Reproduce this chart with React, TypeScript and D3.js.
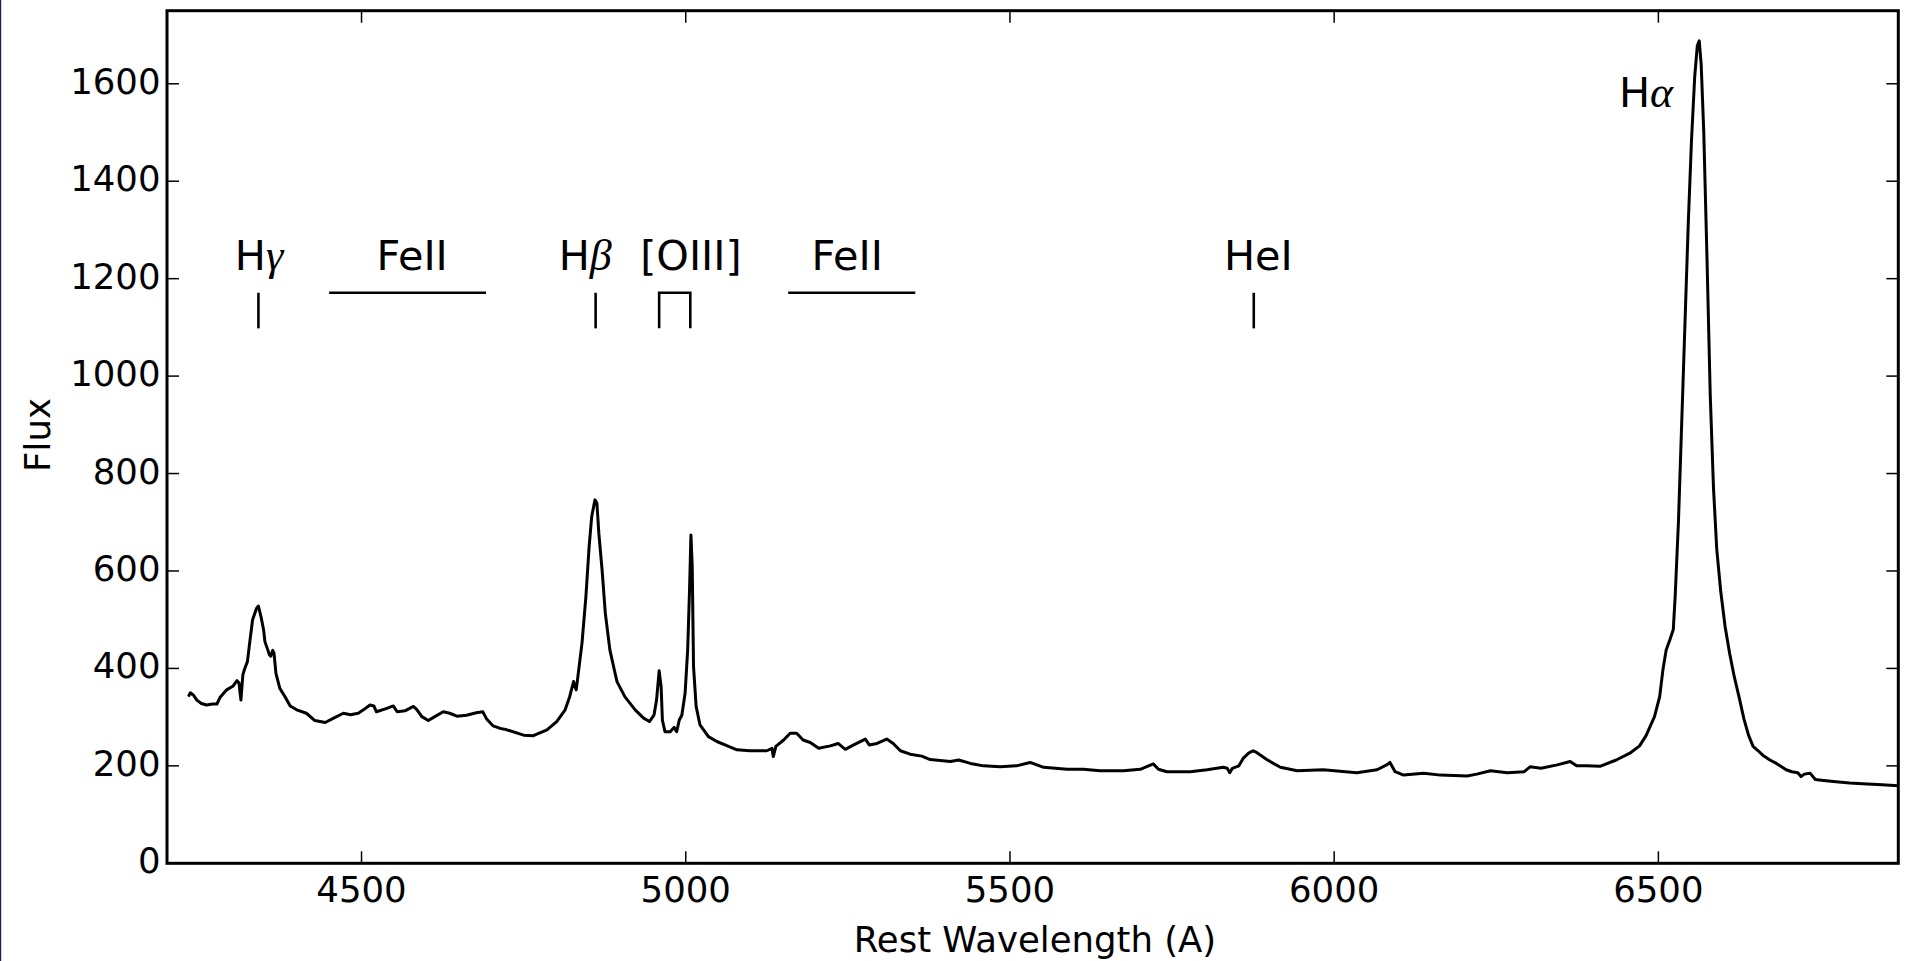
import React from "react";
import * as d3 from "d3";

// Spectrum (rest wavelength in Å, flux)
const wavelengths = [
  4233, 4236, 4238, 4241, 4246, 4253, 4261, 4270, 4277, 4282, 4292, 4302, 4308, 4311, 4314, 4317, 4320, 4324, 4328, 4332,
  4338, 4341, 4345, 4349, 4351, 4358, 4360, 4363, 4365, 4368, 4374, 4382, 4390, 4400, 4415, 4428, 4444, 4457, 4472, 4483,
  4495, 4503, 4513, 4519, 4523, 4539, 4549, 4555, 4567, 4580, 4585, 4593, 4603, 4613, 4626, 4636, 4647, 4662, 4677, 4687,
  4693, 4703, 4714, 4724, 4750, 4765, 4786, 4801, 4814, 4821, 4827, 4831, 4833, 4840, 4846, 4851, 4855, 4860, 4863, 4866,
  4871, 4876, 4883, 4891, 4894, 4906, 4922, 4935, 4944, 4951, 4955, 4959, 4962, 4964, 4968, 4976, 4982, 4986, 4990, 4994,
  4999, 5003, 5006, 5008, 5010, 5012, 5016, 5022, 5035, 5048, 5066, 5079, 5099, 5125, 5133, 5135, 5139, 5151, 5161, 5171,
  5181, 5192, 5205, 5223, 5235, 5246, 5259, 5277, 5283, 5295, 5310, 5320, 5331, 5346, 5364, 5377, 5408, 5421, 5439, 5459,
  5485, 5510, 5531, 5552, 5588, 5613, 5639, 5675, 5701, 5721, 5729, 5742, 5778, 5804, 5829, 5835, 5839, 5843, 5853, 5860,
  5868, 5875, 5881, 5896, 5917, 5943, 5983, 6035, 6066, 6081, 6086, 6094, 6107, 6138, 6164, 6205, 6220, 6241, 6267, 6293,
  6302, 6319, 6344, 6364, 6374, 6389, 6410, 6435, 6456, 6471, 6481, 6494, 6502, 6507, 6512, 6518, 6523, 6526, 6531, 6536,
  6541, 6546, 6551, 6556, 6560, 6563, 6566, 6570, 6575, 6580, 6585, 6590, 6596, 6603, 6610, 6617, 6625, 6632, 6639, 6646,
  6653, 6661, 6672, 6682, 6690, 6697, 6706, 6715, 6720, 6725, 6734, 6742, 6755, 6770, 6795, 6822, 6845, 6870,
];
const fluxes = [
  342, 350, 348, 345, 335, 328, 325, 327, 327, 341, 356, 364, 375, 370, 335, 387, 400, 414, 458, 500,
  523, 528, 506, 479, 455, 428, 425, 437, 432, 390, 359, 342, 323, 315, 308, 293, 289, 298, 308, 305,
  308, 315, 325, 323, 311, 318, 323, 311, 313, 322, 316, 301, 293, 301, 311, 308, 302, 304, 309, 311,
  296, 282, 277, 274, 263, 262, 274, 291, 315, 342, 373, 356, 376, 452, 547, 650, 712, 746, 739, 677,
  602, 513, 438, 390, 373, 342, 315, 298, 291, 304, 335, 395, 363, 294, 270, 270, 279, 270, 294, 304,
  349, 438, 568, 674, 609, 404, 322, 284, 260, 250, 240, 233, 231, 231, 236, 219, 240, 253, 267, 267,
  253, 248, 236, 241, 246, 234, 243, 255, 243, 246, 255, 246, 231, 224, 220, 213, 209, 212, 205, 200,
  198, 200, 207, 197, 193, 193, 190, 190, 193, 204, 193, 188, 188, 192, 197, 195, 186, 195, 200, 216,
  226, 231, 227, 213, 197, 190, 192, 186, 192, 202, 207, 188, 181, 185, 181, 179, 183, 190, 186, 188,
  198, 195, 202, 209, 200, 200, 199, 212, 226, 241, 262, 301, 342, 397, 438, 460, 480, 551, 703, 905,
  1108, 1310, 1482, 1614, 1678, 1688, 1640, 1500, 1240, 960, 770, 645, 560, 485, 430, 383, 338, 296, 263, 240,
  232, 222, 212, 205, 198, 192, 188, 186, 178, 183, 185, 172, 170, 168, 165, 163, 161, 159,
];

const xTicks = [4500, 5000, 5500, 6000, 6500];
const yTicks = [0, 200, 400, 600, 800, 1000, 1200, 1400, 1600];

// Line identifications
const singleMarks = [4341, 4861, 5876];
const oiiiPair = [4959, 5007];
const feiiBands = [
  [4450, 4692],
  [5158, 5354],
];
const markBottom = 1098;
const markTop = 1171;
const labelNames = ["H", "Fe", "H", "[OIII]", "Fe", "HeI", "H"];
const labelGreek = ["γ", "II", "β", "", "II", "", "α"];
const labelWaves = [4342, 4578, 4845, 5008, 5249, 5883, 6481];
const labelFlux = [1217, 1217, 1217, 1217, 1217, 1217, 1552];

const W = 1905;
const H = 961;
const L = 167;
const R = 1898.3;
const T = 10.7;
const B = 863.3;

export default function App() {
  const x = d3.scaleLinear().domain([4200, 6870]).range([L, R]);
  const y = d3.scaleLinear().domain([0, 1750]).range([B, T]);
  const pts = wavelengths.map((w, i) => [w, fluxes[i]] as [number, number]);
  const line = d3
    .line<[number, number]>()
    .x((d) => x(d[0]))
    .y((d) => y(d[1]));
  const tickLen = 12;
  const font = "DejaVu Sans";
  const greekFont = "Liberation Serif";

  return (
    <svg
      width={W}
      height={H}
      style={{ position: "absolute", left: 0, top: 0, display: "block", background: "#fff" }}
      fontFamily={font}
    >
      <rect x={0} y={0} width={W} height={H} fill="#fff" />
      <rect x={0} y={0} width={1.2} height={H} fill="#1c1f52" />
      <path d={line(pts) || ""} fill="none" stroke="#000" strokeWidth={3} strokeLinejoin="round" />

      {/* identification marks */}
      {singleMarks.map((w, i) => (
        <line key={"m" + i} x1={x(w)} x2={x(w)} y1={y(markBottom)} y2={y(markTop)} stroke="#000" strokeWidth={2.6} />
      ))}
      <path
        d={`M${x(oiiiPair[0])},${y(markBottom)}V${y(markTop)}H${x(oiiiPair[1])}V${y(markBottom)}`}
        fill="none"
        stroke="#000"
        strokeWidth={2.6}
      />
      {feiiBands.map((b, i) => (
        <line key={"f" + i} x1={x(b[0])} x2={x(b[1])} y1={y(markTop)} y2={y(markTop)} stroke="#000" strokeWidth={2.6} />
      ))}
      {labelNames.map((n, i) => {
        const g = labelGreek[i];
        const isGreek = g === "γ" || g === "β" || g === "α";
        return (
          <text key={"l" + i} x={x(labelWaves[i])} y={y(labelFlux[i])} textAnchor="middle" fontSize={41.4} fill="#000">
            <tspan>{n}</tspan>
            {g && (
              <tspan fontFamily={isGreek ? greekFont : font} fontStyle={isGreek ? "italic" : "normal"} fontSize={isGreek ? 44 : 41.4}>
                {g}
              </tspan>
            )}
          </text>
        );
      })}

      {/* ticks */}
      {xTicks.map((t) => (
        <g key={"xt" + t}>
          <line x1={x(t)} x2={x(t)} y1={B} y2={B - tickLen} stroke="#000" strokeWidth={1.5} />
          <line x1={x(t)} x2={x(t)} y1={T} y2={T + tickLen} stroke="#000" strokeWidth={1.5} />
          <text x={x(t)} y={B + 38.3} textAnchor="middle" fontSize={35.5} fill="#000">
            {t}
          </text>
        </g>
      ))}
      {yTicks.map((t) => (
        <g key={"yt" + t}>
          <line x1={L} x2={L + tickLen} y1={y(t)} y2={y(t)} stroke="#000" strokeWidth={1.5} />
          <line x1={R} x2={R - tickLen} y1={y(t)} y2={y(t)} stroke="#000" strokeWidth={1.5} />
          <text x={160.5} y={y(t) + 10} textAnchor="end" fontSize={35.5} fill="#000">
            {t}
          </text>
        </g>
      ))}

      <rect x={L} y={T} width={R - L} height={B - T} fill="none" stroke="#000" strokeWidth={3} />

      <text x={1035} y={952} textAnchor="middle" fontSize={35.5} fill="#000">
        Rest Wavelength (A)
      </text>
      <text transform={`translate(49.5,435) rotate(-90)`} textAnchor="middle" fontSize={35.5} fill="#000">
        Flux
      </text>
    </svg>
  );
}
